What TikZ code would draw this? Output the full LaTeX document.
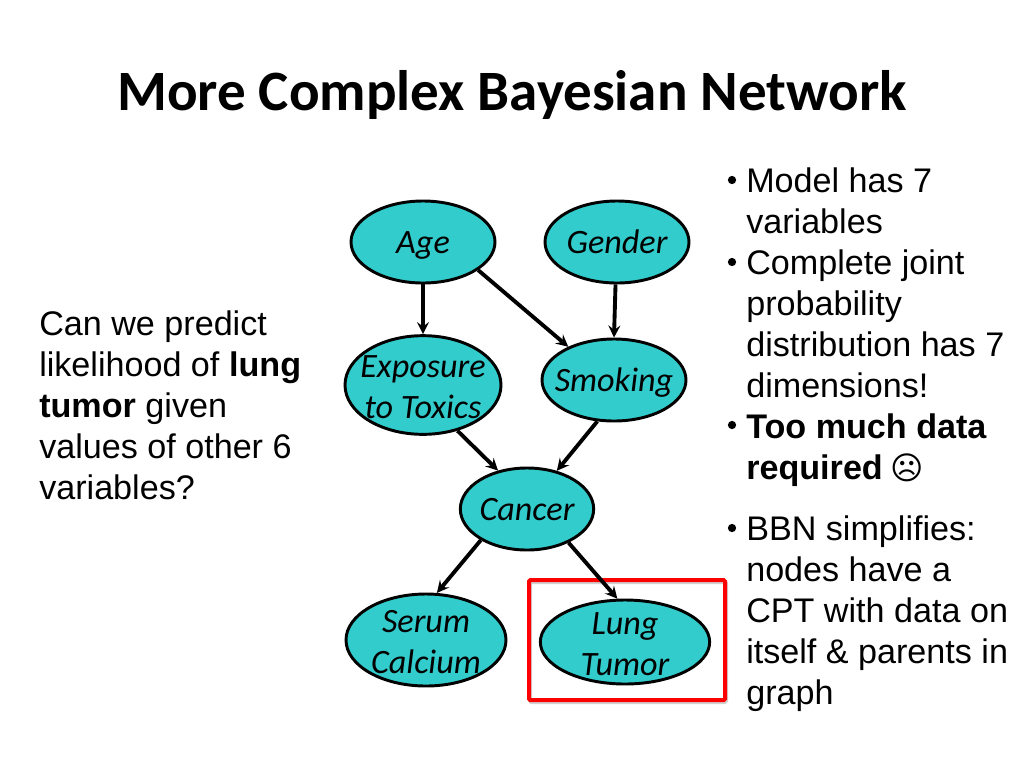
\documentclass[tikz,border=0pt]{standalone}
\usepackage{fontspec}
\setmainfont{Liberation Sans}
\newfontfamily\carlito{Carlito}
\newfontfamily\dejavu{DejaVu Sans}
\usetikzlibrary{shapes.geometric}
\tikzset{>=stealth}
\definecolor{nodeteal}{RGB}{51,204,204}
\tikzset{
  var/.style={ellipse,draw=black,line width=2.2pt,fill=nodeteal,inner xsep=-8pt,inner ysep=-5pt,align=center,
    font=\carlito\itshape\fontsize{25.6}{30.75}\selectfont},
  oneline/.style={text height=20.5pt,text depth=4pt},
  link/.style={->,line width=2.9pt},
  body/.style={anchor=north west,inner sep=0pt,align=left,
    font=\fontsize{25.6}{30.75}\selectfont},
  dot/.style={circle,fill=black,inner sep=0pt,minimum size=6.2pt}
}
\newcommand*{\sad}{{\dejavu\mdseries\fontsize{24}{30.75}\selectfont\hspace{-1pt}\char"2639}}
\newcommand*{\nudge}{\rule{0pt}{19pt}}

\begin{document}
\begin{tikzpicture}[x=.75pt,y=-.75pt]
\useasboundingbox (0,0) rectangle (1024,768);
\node[anchor=base,inner sep=0pt,font=\carlito\bfseries\fontsize{42.8}{50}\selectfont] (title) at (512,110)
  {More Complex Bayesian Network};
% left question
\node[body] (question) at (39,310) {Can we predict\\likelihood of \textbf{lung}\\\textbf{tumor} given\\values of other 6\\variables?};
% right bullets
\node[dot] (d1) at (732,180) {};
\node[body] (b1) at (746,167) {Model has 7\\variables};
\node[dot] (d2) at (732,262) {};
\node[body] (b2) at (746,249) {Complete joint\\probability\\distribution has 7\\dimensions!};
\node[dot] (d3) at (732,425) {};
\node[body] (b3) at (746,413) {\textbf{Too much data}\\\textbf{required} \sad};
\node[dot] (d4) at (732,528) {};
\node[body] (b4) at (746,515) {BBN simplifies:\\nodes have a\\CPT with data on\\itself \& parents in\\graph};
% box round the target
\draw[black!18,line width=3pt,rounded corners=1pt] (530,582) rectangle (726,702);
\draw[red,line width=3pt,rounded corners=1pt] (529,580) rectangle (725,700);
% network
\node[var,oneline,minimum width=108pt,minimum height=61.5pt] (age) at (423,242) {Age};
\node[var,oneline,minimum width=108pt,minimum height=61.5pt] (gender) at (617,242) {Gender};
\node[var,minimum width=117pt,minimum height=74pt] (toxics) at (423,385) {\rule{0pt}{20pt}Exposure\\to Toxics};
\node[var,oneline,minimum width=108pt,minimum height=61.5pt] (smoking) at (614,380) {Smoking};
\node[var,oneline,minimum width=100pt,minimum height=61.5pt] (cancer) at (527,509) {Cancer};
\node[var,minimum width=120pt,minimum height=69pt] (serum) at (426,640) {\nudge Serum\\Calcium};
\node[var,minimum width=127pt,minimum height=63pt] (lung) at (625,642) {\nudge Lung\\Tumor};
\draw[link] (age.south) -- (toxics.north);
\draw[link] (age.-27) -- (smoking.144);
\draw[link] (gender.-92) -- (smoking.90);
\draw[link] (toxics.-53) -- (cancer.127);
\draw[link] (smoking.-112) -- (cancer.52);
\draw[link] (cancer.-146) -- (serum.77);
\draw[link] (cancer.-39) -- (lung.100);
\end{tikzpicture}
\end{document}
